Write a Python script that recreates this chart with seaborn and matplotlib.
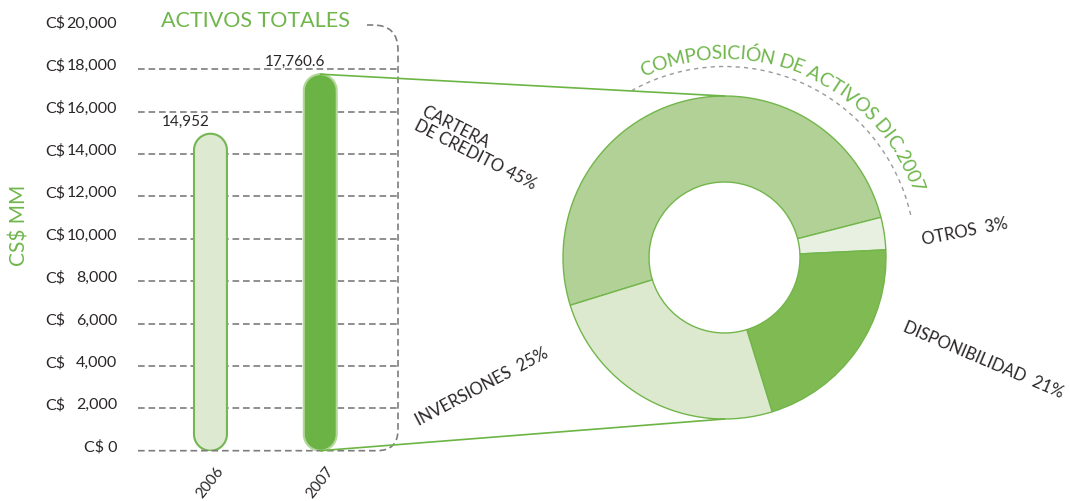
import matplotlib
matplotlib.use("Agg")
import numpy as np
import pandas as pd
import matplotlib.pyplot as plt
import matplotlib.transforms as mtransforms
from matplotlib.patches import Polygon, Arc, PathPatch, ConnectionPatch
from matplotlib.path import Path
from matplotlib.font_manager import FontProperties
import seaborn as sns

# ---------------- data ----------------
years = ["2006", "2007"]
total_assets = [14952.0, 17760.6]
total_labels = ["14,952", "17,760.6"]
ytick_values = [0, 2000, 4000, 6000, 8000, 10000, 12000, 14000, 16000, 18000, 20000]
ytick_numbers = ["0", "2,000", "4,000", "6,000", "8,000", "10,000", "12,000",
                 "14,000", "16,000", "18,000", "20,000"]
segment_labels = ["CARTERA\nDE CREDITO 45%", "OTROS  3%", "DISPONIBILIDAD  21%", "INVERSIONES  25%"]
segment_shares = [50.8, 3.25, 21.0, 25.0]   # wedge sizes as drawn
bar_title = "ACTIVOS TOTALES"
donut_title = "COMPOSICIÓN DE ACTIVOS DIC.2007"
y_title = "CS$ MM"

# ---------------- style ----------------
sns.set_theme(style="white")
FAM = ["Lato", "DejaVu Sans"]
plt.rcParams["font.family"] = FAM

W, H = 1070, 501
fig = plt.figure(figsize=(W / 100, H / 100), dpi=100)


def fx(x):
    return x / W


def fy(y):
    return 1 - y / H


GREEN_TXT = "#6fb64c"
GREEN_LINE = "#6cb544"
GRID = "#7d7d7d"
DARK = "#2a2627"
DASH = (0, (4, 2.3))

# ---------------- bar chart ----------------
L, R, T, B = 138, 398, 26.7, 450.7
ax = fig.add_axes([fx(L), fy(B), (R - L) / W, (B - T) / H])
df = pd.DataFrame({"year": years, "total": total_assets})
sns.barplot(data=df, x="year", y="total", hue="year",
            palette=["#dde9d0", "#6bb345"], width=0.30, saturation=1,
            legend=False, ax=ax, zorder=3)
XMIN, XMAX = -0.66, 1.708
ax.set_xlim(XMIN, XMAX)
ax.set_ylim(0, 20000)
asp = (20000 / (B - T)) / ((XMAX - XMIN) / (R - L))
edge_colors = ["#74b652", "#b4d89b"]
for p, ec in zip(list(ax.patches), edge_colors):
    x, w, h = p.get_x(), p.get_width(), p.get_height()
    fc = p.get_facecolor()
    p.remove()
    rx = w / 2
    ry = min(rx * asp, h / 2)
    xc = x + rx
    tb = np.linspace(np.pi, 2 * np.pi, 40)
    tt = np.linspace(0, np.pi, 40)
    xs = np.concatenate([xc + rx * np.cos(tb), xc + rx * np.cos(tt)])
    ys = np.concatenate([ry + ry * np.sin(tb), h - ry + ry * np.sin(tt)])
    ax.add_patch(Polygon(np.column_stack([xs, ys]), closed=True, fc=fc, ec=ec,
                         lw=1.5, zorder=3))

for v in ytick_values[1:-1]:
    ax.axhline(v, color=GRID, lw=1.2, ls=DASH, zorder=1)

for s in ax.spines.values():
    s.set_visible(False)
ax.set_xlabel("")
ax.set_ylabel("")
ax.set_yticks(ytick_values)
ax.set_yticklabels([])
ax.tick_params(axis="y", length=0)
ax.grid(False)

off = mtransforms.ScaledTranslation(0, 3 / 100, fig.dpi_scale_trans)
tr = mtransforms.blended_transform_factory(fig.transFigure, ax.transData) + off
for v, num in zip(ytick_values, ytick_numbers):
    if v == 0:
        ax.text(fx(117), v, "C$ " + num, transform=tr, ha="right", va="center",
                fontsize=11.5, color=DARK)
    else:
        ax.text(fx(117), v, num, transform=tr, ha="right", va="center",
                fontsize=11.5, color=DARK)
        ax.text(fx(45), v, "C$", transform=tr, ha="left", va="center",
                fontsize=11.5, color=DARK)

ax.set_xticks([0, 1])
ax.set_xticklabels(years, fontsize=11, color=DARK)
ax.tick_params(axis="x", length=0, pad=23)
plt.setp(ax.get_xticklabels(), rotation=52, ha="center", va="center",
         rotation_mode="anchor")

for i, (v, lbl) in enumerate(zip(total_assets, total_labels)):
    ax.annotate(lbl, (i, v), xytext=(-25, 12), textcoords="offset pixels",
                ha="center", va="center", fontsize=11, color=DARK)

# bracket (bottom gridline + right side + top corner)
verts = [(138, 450.7), (377, 450.7), (398, 450.7), (398, 429.7),
         (398, 50), (398, 25), (373, 25), (367, 25)]
codes = [Path.MOVETO, Path.LINETO, Path.CURVE3, Path.CURVE3,
         Path.LINETO, Path.CURVE3, Path.CURVE3, Path.LINETO]
pxtr = mtransforms.Affine2D().scale(1 / W, -1 / H).translate(0, 1) + fig.transFigure
fig.add_artist(PathPatch(Path(verts, codes), transform=pxtr, fill=False,
                         ec=GRID, lw=1.2, ls=DASH))

fig.text(fx(255), fy(21), bar_title, ha="center", va="center", fontsize=15.5,
         color=GREEN_TXT)
fig.text(fx(20), fy(225), y_title, rotation=90, ha="center", va="center",
         fontsize=15, color=GREEN_TXT)

# ---------------- donut ----------------
cx, cy = 724.5, 257.5
S = 240
ax2 = fig.add_axes([fx(cx - S), fy(cy + S), 2 * S / W, 2 * S / H])
R_out, R_in = 161.5, 75.5
ax2.pie(segment_shares, radius=R_out, startangle=197.2, counterclock=False,
        colors=["#b2d196", "#e8f1e1", "#80ba52", "#dde9cf"],
        wedgeprops=dict(width=R_out - R_in, edgecolor="#72b64b", linewidth=1.0))
ax2.set_xlim(-S, S)
ax2.set_ylim(-S, S)
ax2.set_axis_off()

ax2.add_patch(Arc((0, 0), 2 * 191, 2 * 191, theta1=12.9, theta2=118.9,
                  ec="#9a9a9a", lw=1.0, ls=(0, (3, 3))))

# curved title
renderer = fig.canvas.get_renderer()
base = 12
fp = FontProperties(family=FAM, size=base)


def tw(s):
    return renderer.get_text_width_height_descent(s, fp, ismath=False)[0]


centers = []
for i, ch in enumerate(donut_title):
    centers.append(None if ch == " " else tw(donut_title[:i + 1]) - tw(ch) / 2)
valid = [c for c in centers if c is not None]
c0, c1 = valid[0], valid[-1]
a0, a1 = 112.5, 20.4
r_txt = 204
fs = base * (r_txt * np.radians(a0 - a1)) / (c1 - c0)
for ch, c in zip(donut_title, centers):
    if c is None:
        continue
    th = a0 - (c - c0) / (c1 - c0) * (a0 - a1)
    ax2.text(r_txt * np.cos(np.radians(th)), r_txt * np.sin(np.radians(th)), ch,
             rotation=th - 90, ha="center", va="center", rotation_mode="anchor",
             fontsize=fs, color=GREEN_TXT)

label_layout = [((-245.5, 109.5), -27), ((240.5, 25.5), 11),
                ((258.5, -102.5), -23), ((-242.5, -129.5), 28)]
for lbl, ((lx, ly), rot) in zip(segment_labels, label_layout):
    ax2.text(lx, ly, lbl, rotation=rot, ha="center", va="center",
             multialignment="left", fontsize=12, color=DARK, linespacing=1.0)

# connectors
for yA, yB in [(total_assets[1], R_out), (0, -R_out)]:
    fig.add_artist(ConnectionPatch(xyA=(1, yA), coordsA=ax.transData,
                                   xyB=(0, yB), coordsB=ax2.transData,
                                   color=GREEN_LINE, lw=1.2))

fig.savefig("out.png", dpi=100)
